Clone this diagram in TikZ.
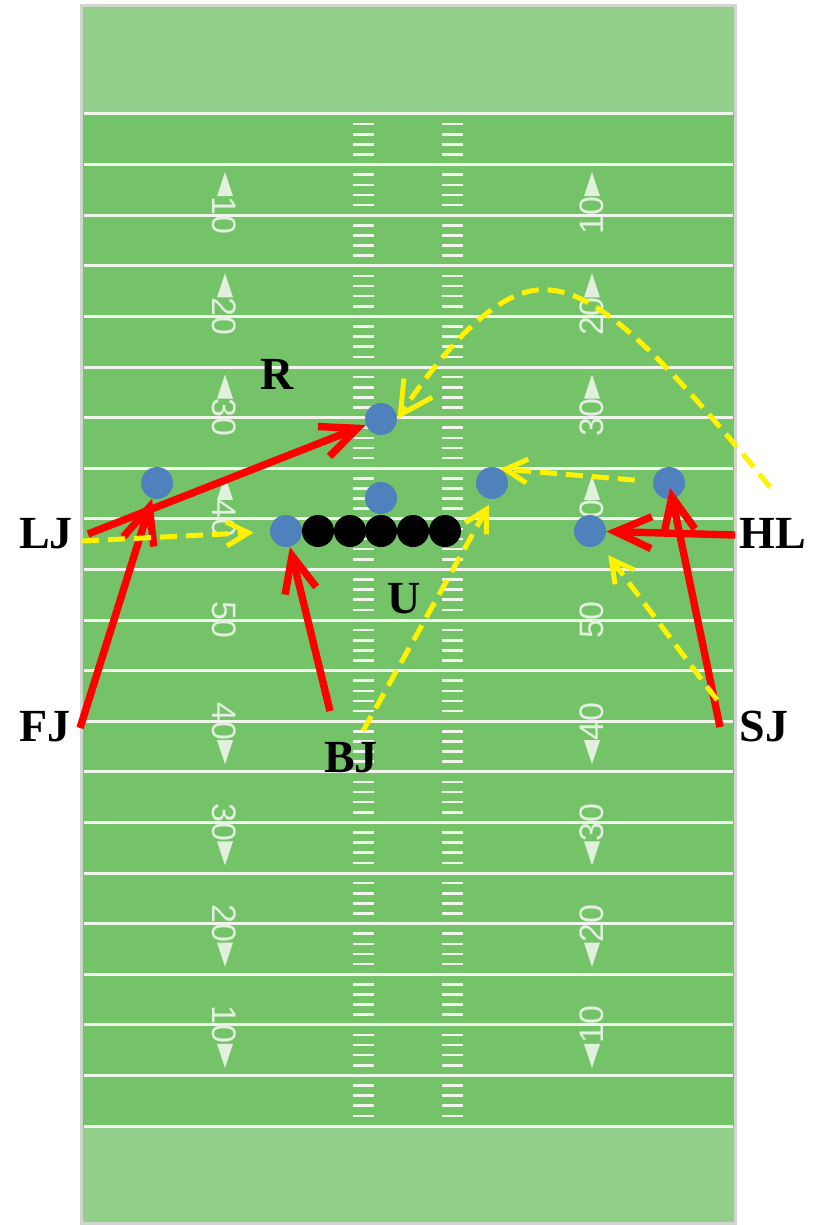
\documentclass[tikz,border=0pt]{standalone}
\usepackage{fontspec}
\setmainfont{Liberation Serif}
\newfontfamily\fieldfont{Liberation Sans}
\usetikzlibrary{arrows.meta}
\definecolor{turfgreen}{RGB}{116,195,105}
\definecolor{endgreen}{RGB}{146,207,138}
\definecolor{chalk}{RGB}{240,246,236}
\definecolor{numwhite}{RGB}{226,240,222}
\definecolor{playerblue}{RGB}{79,129,189}
\definecolor{rimgray}{RGB}{208,214,206}

\begin{document}
\begin{tikzpicture}[x=0.5pt, y=-0.5pt,
    player/.style={circle, fill=playerblue, minimum size=16pt, inner sep=0pt},
    lineman/.style={circle, fill=black, minimum size=16pt, inner sep=0pt},
    official/.style={font=\fontsize{23}{23}\selectfont\bfseries, inner sep=0pt, anchor=base},
    yardnum/.style={font=\fieldfont\fontsize{17}{17}\selectfont, text=numwhite, inner sep=0pt},
    keyline/.style={draw=red, line width=3.7pt, -{Straight Barb[length=18pt, width=16pt]}},
    readline/.style={draw=yellow, line width=2.5pt, dash pattern=on 8.5pt off 4.5pt,
                     -{Straight Barb[length=11pt, width=12pt]}}
  ]
    \useasboundingbox (0,0) rectangle (825,1225);

    % field and end zones
    \fill[turfgreen] (82,7) rectangle (734,1222);
    \fill[endgreen] (82,7) rectangle (734,113);
    \fill[endgreen] (82,1127) rectangle (734,1222);
    \draw[rimgray, line width=1.5pt] (81,6) rectangle (735,1223);

    \foreach \i in {0,...,20}
      \draw[chalk, line width=1.5pt] (84,{114+50.6*\i}) -- (733,{114+50.6*\i});
    \foreach \i in {0,...,19}
      \foreach \j in {1,...,4} {
        \draw[chalk, line width=1.3pt] (353,{114+50.6*\i+10.12*\j}) -- (374,{114+50.6*\i+10.12*\j});
        \draw[chalk, line width=1.3pt] (442,{114+50.6*\i+10.12*\j}) -- (463,{114+50.6*\i+10.12*\j});
      }

    % yard numbers
    \foreach \n/\k in {10/2, 20/4, 30/6, 40/8, 50/10, 40/12, 30/14, 20/16, 10/18} {
      \node[yardnum, rotate=-90] (numl\k) at (224,{114+50.6*\k}) {\n};
      \node[yardnum, rotate=90] (numr\k) at (592,{114+50.6*\k}) {\n};
    }
    \foreach \k in {2,4,6,8} {
      \pgfmathsetmacro\yy{114+50.6*\k}
      \fill[numwhite] (217,{\yy-19}) -- (233,{\yy-19}) -- (225,{\yy-43}) -- cycle;
      \fill[numwhite] (584,{\yy-19}) -- (600,{\yy-19}) -- (592,{\yy-43}) -- cycle;
    }
    \foreach \k in {12,14,16,18} {
      \pgfmathsetmacro\yy{114+50.6*\k}
      \fill[numwhite] (217,{\yy+19}) -- (233,{\yy+19}) -- (225,{\yy+43}) -- cycle;
      \fill[numwhite] (584,{\yy+19}) -- (600,{\yy+19}) -- (592,{\yy+43}) -- cycle;
    }

    % players
    \node[player] (wrl) at (157,483) {};
    \node[player] (back) at (381,419) {};
    \node[player] (qb) at (381,498) {};
    \node[player] (tel) at (286,531) {};
    \foreach \x [count=\c] in {318,350,381,413,445}
      \node[lineman] (ol\c) at (\x,531) {};
    \node[player] (slot) at (492,483) {};
    \node[player] (ter) at (590,531) {};
    \node[player] (wrr) at (669,483) {};

    % officials
    \node[official] (r) at (277,389) {R};
    \node[official] (u) at (404,613) {U};
    \node[official] (lj) at (46,548) {LJ};
    \node[official] (hl) at (773,548) {HL};
    \node[official] (fj) at (45,741) {FJ};
    \node[official] (bj) at (351,772) {BJ};
    \node[official] (sj) at (764,741) {SJ};

    \coordinate (lj-key) at (88,534);
    \coordinate (lj-read) at (82,541);
    \coordinate (fj-key) at (80,728);
    \coordinate (bj-key) at (330,711);
    \coordinate (bj-read) at (363,731);
    \coordinate (hl-key) at (735,535);
    \coordinate (hl-read) at (770,487);
    \coordinate (sj-key) at (720,727);
    \coordinate (sj-read) at (717,700);

    % keys
    \draw[keyline] (lj-key) -- (back);
    \draw[keyline] (fj-key) -- (wrl);
    \draw[keyline] (bj-key) -- (tel);
    \draw[keyline] (hl-key) -- (ter);
    \draw[keyline, shorten >=2.5pt] (sj-key) -- (wrr.center);

    % reads
    \draw[readline, shorten >=8pt] (lj-read) -- (tel);
    \draw[readline, shorten <=9pt] (wrr) -- (slot.60);
    \draw[readline, shorten >=3pt] (bj-read) -- (slot.south);
    \draw[readline, shorten >=7pt] (sj-read) -- (ter);
    \draw[readline, -{Straight Barb[length=16pt, width=17pt]}] (hl-read)
      .. controls (650,340) and (590,285) .. (537,290)
      .. controls (490,295) and (440,355) .. (back.east);
  \end{tikzpicture}
\end{document}
